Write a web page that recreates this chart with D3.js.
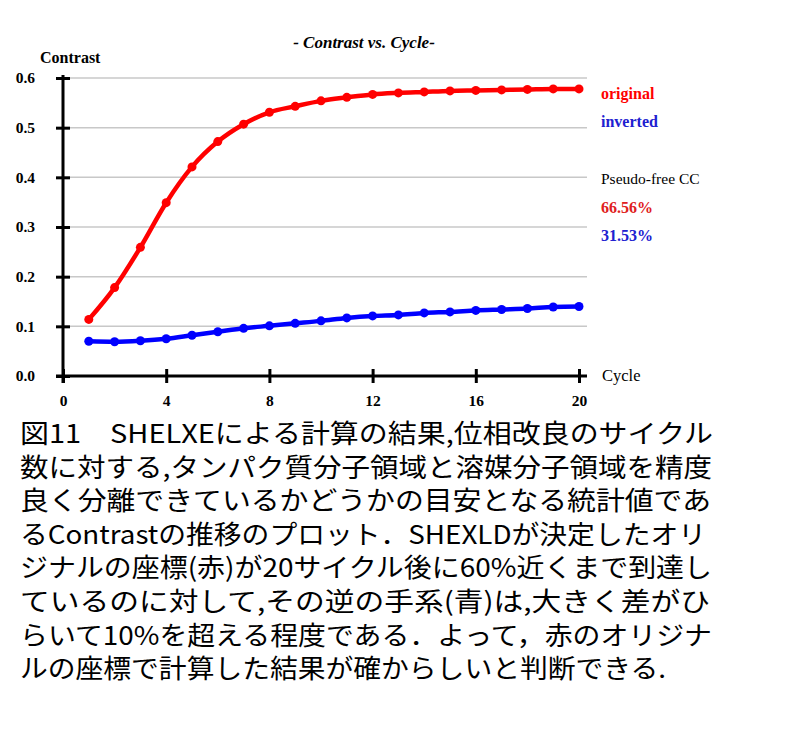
<!DOCTYPE html>
<html><head><meta charset="utf-8">
<script src="https://cdn.jsdelivr.net/npm/d3@7"></script>
<style>body{margin:0;background:#fff;}svg{display:block;}</style>
</head><body>
<svg id="c" width="786" height="738"></svg>
<script>
const cycles = [1,2,3,4,5,6,7,8,9,10,11,12,13,14,15,16,17,18,19,20];
const original = [0.114,0.178,0.259,0.349,0.421,0.472,0.507,0.531,0.543,0.554,0.561,0.567,0.570,0.572,0.574,0.575,0.576,0.577,0.578,0.578];
const inverted = [0.070,0.069,0.071,0.075,0.082,0.089,0.096,0.101,0.106,0.111,0.117,0.121,0.123,0.127,0.129,0.132,0.134,0.136,0.139,0.140];
const xTicks = [0,4,8,12,16,20];
const yTicks = [0.0,0.1,0.2,0.3,0.4,0.5,0.6];
const legendLines = [
  {text:"original", color:"#ff0000", weight:"bold", size:16},
  {text:"inverted", color:"#2020d0", weight:"bold", size:16},
  {text:"", color:"#000", weight:"normal", size:16},
  {text:"Pseudo-free CC", color:"#000", weight:"normal", size:15.5},
  {text:"66.56%", color:"#e02020", weight:"bold", size:16},
  {text:"31.53%", color:"#2020d0", weight:"bold", size:16}
];
const captionLines = [
  "図11　SHELXEによる計算の結果,位相改良のサイクル",
  "数に対する,タンパク質分子領域と溶媒分子領域を精度",
  "良く分離できているかどうかの目安となる統計値であ",
  "るContrastの推移のプロット．SHEXLDが決定したオリ",
  "ジナルの座標(赤)が20サイクル後に60%近くまで到達し",
  "ているのに対して,その逆の手系(青)は,大きく差がひ",
  "らいて10%を超える程度である．よって，赤のオリジナ",
  "ルの座標で計算した結果が確からしいと判断できる."
];
const captionWidths = [693,692,691,686,692,690,692,646];

const svg = d3.select("#c");
const serif = "'Liberation Serif','Times New Roman',serif";
const x = d3.scaleLinear().domain([0,20]).range([63,579]);
const y = d3.scaleLinear().domain([0,0.6]).range([376,78]);

svg.append("g").selectAll("line").data(yTicks.filter(d=>d>0)).join("line")
  .attr("x1",x(0)).attr("x2",587).attr("y1",d=>y(d)).attr("y2",d=>y(d))
  .attr("stroke","#c8c8c8").attr("stroke-width",1.5);

const yAxis = svg.append("g").attr("transform",`translate(${x(0)},0)`)
  .call(d3.axisLeft(y).tickValues(yTicks).tickFormat(d3.format(".1f")).tickSize(7).tickPadding(21));
yAxis.select(".domain").remove();
yAxis.selectAll(".tick line").attr("x1",-7).attr("x2",7).attr("stroke","#000").attr("stroke-width",3);
yAxis.selectAll(".tick text").style("font-family",serif).style("font-weight","bold").style("font-size","15.5px").attr("fill","#000");
svg.append("line").attr("x1",x(0)).attr("x2",x(0)).attr("y1",y(0)+7).attr("y2",75)
  .attr("stroke","#000").attr("stroke-width",3);

const xAxis = svg.append("g").attr("transform",`translate(0,${y(0)})`)
  .call(d3.axisBottom(x).tickValues(xTicks).tickSize(7).tickPadding(12));
xAxis.select(".domain").remove();
xAxis.selectAll(".tick line").attr("y1",-7).attr("y2",7).attr("stroke","#000").attr("stroke-width",3);
xAxis.selectAll(".tick text").style("font-family",serif).style("font-weight","bold").style("font-size","15.5px").attr("fill","#000");
svg.append("line").attr("x1",56).attr("x2",587).attr("y1",y(0)).attr("y2",y(0))
  .attr("stroke","#000").attr("stroke-width",3);

const series = [{vals:original,color:"#ff0000"},{vals:inverted,color:"#0000ff"}];
const line = d3.line().x((d,i)=>x(cycles[i])).y(d=>y(d)).curve(d3.curveMonotoneX);
series.forEach(s=>{
  svg.append("path").attr("d",line(s.vals)).attr("fill","none").attr("stroke",s.color)
    .attr("stroke-width",4.5).attr("stroke-linejoin","round");
  svg.append("g").selectAll("circle").data(s.vals).join("circle")
    .attr("cx",(d,i)=>x(cycles[i])).attr("cy",d=>y(d)).attr("r",4.5).attr("fill",s.color);
});

svg.append("text").attr("x",364).attr("y",48).attr("text-anchor","middle")
  .style("font-family",serif).style("font-style","italic").style("font-weight","bold").style("font-size","17px")
  .text("- Contrast vs. Cycle-");
svg.append("text").attr("x",40).attr("y",63).style("font-family",serif).style("font-weight","bold").style("font-size","16px")
  .text("Contrast");
svg.append("text").attr("x",602).attr("y",381).style("font-family",serif).style("font-size","16.5px")
  .text("Cycle");

svg.append("g").selectAll("text").data(legendLines).join("text")
  .attr("x",601).attr("y",(d,i)=>99+i*28.4)
  .style("font-family",serif).style("font-size",d=>d.size+"px")
  .style("font-weight",d=>d.weight).attr("fill",d=>d.color).text(d=>d.text);

svg.append("g").selectAll("text").data(captionLines).join("text")
  .attr("x",20).attr("y",(d,i)=>443+i*33.6)
  .style("font-family","'Noto Sans CJK JP',sans-serif").style("font-size","26px")
  .attr("textLength",(d,i)=>captionWidths[i]).attr("lengthAdjust","spacingAndGlyphs")
  .attr("fill","#000").text(d=>d);
</script>
</body></html>
